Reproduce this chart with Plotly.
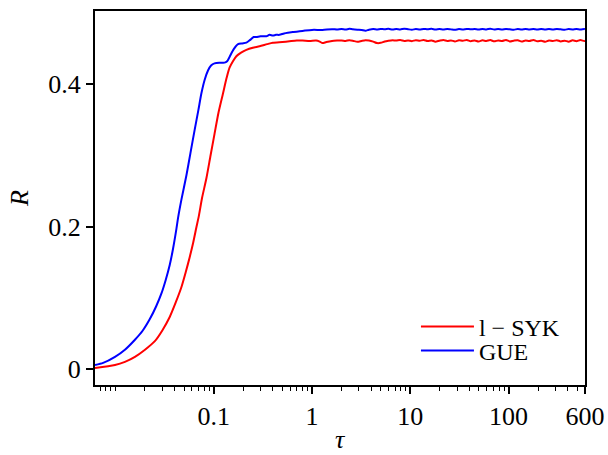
import plotly.graph_objects as go

# ---- data ----
tau_syk = [0.0062, 0.0099, 0.0125, 0.0158, 0.020, 0.0252, 0.030, 0.0357, 0.041, 0.047,
           0.052, 0.057, 0.062, 0.0667, 0.0709, 0.0761, 0.0844, 0.093, 0.102, 0.112,
           0.124, 0.135, 0.145, 0.157, 0.170, 0.190, 0.215, 0.25, 0.293, 0.35,
           0.40, 0.50, 0.59, 0.70, 0.8, 0.95, 1.1, 1.2, 1.28, 1.4, 1.6, 1.8,
           2.0, 2.2, 2.4, 2.6, 2.9, 3.2, 3.5, 3.8, 4.2, 4.6, 5.0, 5.5, 6.0, 6.6,
           7.2, 7.9, 8.7, 9.5, 10.4, 11.4, 12.5, 13.7, 15, 16.5, 18, 19.8, 21.7,
           23.8, 26, 28.5, 31.3, 34.3, 37.6, 41.2, 45.2, 49.5, 54.3, 59.5, 65.2,
           71.5, 78.4, 86, 94.2, 103, 113, 124, 136, 149, 163, 179, 196, 215,
           236, 258, 283, 310, 340, 373, 409, 448, 491, 538, 590, 600]
r_syk = [0.0014, 0.0056, 0.010, 0.017, 0.027, 0.039, 0.054, 0.073, 0.093, 0.115,
         0.136, 0.157, 0.178, 0.199, 0.216, 0.240, 0.268, 0.300, 0.330, 0.360,
         0.386, 0.408, 0.423, 0.432, 0.439, 0.444, 0.448, 0.451, 0.453, 0.456,
         0.458, 0.459, 0.460, 0.461, 0.461, 0.4605, 0.461, 0.4595, 0.4575, 0.459, 0.4605, 0.461,
         0.4612, 0.4605, 0.4615, 0.4608, 0.4592, 0.4605, 0.4615, 0.461, 0.4595, 0.4575, 0.4578, 0.4598, 0.4608, 0.4615,
         0.461, 0.4618, 0.4605, 0.4612, 0.4602, 0.4615, 0.4608, 0.4618, 0.4603, 0.4612, 0.4595, 0.4608, 0.4618,
         0.4605, 0.4612, 0.4598, 0.4614, 0.4606, 0.4619, 0.4601, 0.4611, 0.4597, 0.4613, 0.4604, 0.4617,
         0.4599, 0.4612, 0.4603, 0.4618, 0.4598, 0.4609, 0.4615, 0.4596, 0.4611, 0.4604, 0.4619, 0.4599, 0.4608,
         0.4593, 0.4611, 0.4603, 0.4616, 0.4598, 0.4609, 0.4594, 0.4613, 0.4601, 0.4617, 0.4604, 0.4610]

tau_gue = [0.0062, 0.0075, 0.0099, 0.0125, 0.0158, 0.019, 0.0224, 0.026, 0.0294, 0.0325,
           0.0357, 0.0385, 0.0418, 0.0434, 0.0470, 0.0528, 0.0580, 0.0641, 0.0700, 0.0750,
           0.0810, 0.0875, 0.094, 0.102, 0.114, 0.129, 0.137, 0.145, 0.160, 0.177,
           0.195, 0.215, 0.235, 0.255, 0.271, 0.30, 0.343, 0.37, 0.40, 0.43,
           0.467, 0.52, 0.568, 0.65, 0.75, 0.85, 1.0, 1.28, 1.6, 1.8,
           2.0, 2.2, 2.4, 2.6, 2.9, 3.2, 3.5, 3.8, 4.2, 4.6, 5.0, 5.5, 6.0, 6.6,
           7.2, 7.9, 8.7, 9.5, 10.4, 11.4, 12.5, 13.7, 15, 16.5, 18, 19.8, 21.7,
           23.8, 26, 28.5, 31.3, 34.3, 37.6, 41.2, 45.2, 49.5, 54.3, 59.5, 65.2,
           71.5, 78.4, 86, 94.2, 103, 113, 124, 136, 149, 163, 179, 196, 215,
           236, 258, 283, 310, 340, 373, 409, 448, 491, 538, 590, 600]
r_gue = [0.0056, 0.0085, 0.017, 0.027, 0.041, 0.054, 0.070, 0.088, 0.106, 0.125,
         0.146, 0.168, 0.197, 0.212, 0.238, 0.272, 0.303, 0.336, 0.364, 0.387,
         0.406, 0.419, 0.426, 0.429, 0.430, 0.430, 0.432, 0.438, 0.449, 0.456,
         0.457, 0.458, 0.462, 0.466, 0.466, 0.467, 0.467, 0.469, 0.468, 0.469,
         0.469, 0.471, 0.472, 0.473, 0.474, 0.475, 0.476, 0.476, 0.477, 0.4765,
         0.4772, 0.4765, 0.4775, 0.4768, 0.4762, 0.4758, 0.4748, 0.4762, 0.4772, 0.4766, 0.4774, 0.4768, 0.4776, 0.4764,
         0.4772, 0.4767, 0.4775, 0.4769, 0.4763, 0.4771, 0.4766, 0.4774, 0.4768, 0.4776, 0.4764, 0.4771, 0.4766,
         0.4773, 0.4767, 0.4762, 0.4771, 0.4765, 0.4774, 0.4768, 0.4772, 0.4764, 0.4773, 0.4767, 0.4775,
         0.4766, 0.4771, 0.4765, 0.4773, 0.4768, 0.4762, 0.4772, 0.4766, 0.4774, 0.4767, 0.4771, 0.4764, 0.4773,
         0.4766, 0.4772, 0.4765, 0.4774, 0.4768, 0.4763, 0.4771, 0.4767, 0.4773, 0.4765, 0.4772, 0.4768]

x_tickvals = [0.1, 1, 10, 100, 600]
x_ticktext = ["0.1", "1", "10", "100", "600"]
y_tickvals = [0, 0.2, 0.4]
y_ticktext = ["0", "0.2", "0.4"]

x_title = "<i>τ</i>"
y_title = "<i>R</i>"

series_names = ["l − SYK", "GUE"]
series_colors = ["#ff0000", "#0000ff"]

FONT = "Liberation Serif"

fig = go.Figure()
fig.add_trace(go.Scatter(x=tau_syk, y=r_syk, mode="lines", name=series_names[0],
                         line=dict(color=series_colors[0], width=2, shape="spline", smoothing=0.7),
                         legend="legend"))
fig.add_trace(go.Scatter(x=tau_gue, y=r_gue, mode="lines", name=series_names[1],
                         line=dict(color=series_colors[1], width=2, shape="spline", smoothing=0.7),
                         legend="legend2"))

minor_vals = [m * 10 ** e for e in range(-3, 3) for m in range(2, 10)]
minor_vals = [v for v in minor_vals if 0.0062 < v < 600]
minor_vals += [0.01]

leg_common = dict(xanchor="left", yanchor="middle", bgcolor="rgba(0,0,0,0)",
                  font=dict(size=24, family=FONT), itemwidth=53, borderwidth=0)

fig.update_layout(
    width=608, height=455,
    margin=dict(l=95, r=23, t=11, b=70, autoexpand=False),
    plot_bgcolor="white", paper_bgcolor="white",
    font=dict(family=FONT, size=26, color="black"),
    showlegend=True,
    legend=dict(x=0.655, y=(385 - 327) / 374, **leg_common),
    legend2=dict(x=0.655, y=(385 - 351) / 374, **leg_common),
    xaxis=dict(type="log", range=[-2.2076, 2.778], automargin=False,
               tickmode="array", tickvals=x_tickvals, ticktext=x_ticktext,
               ticks="outside", ticklen=7, tickwidth=1.5, tickcolor="black",
               showline=True, linecolor="black", linewidth=2, mirror=True,
               showgrid=False, zeroline=False,
               minor=dict(tickmode="array", tickvals=minor_vals, ticks="outside",
                          ticklen=4, tickwidth=1, tickcolor="black", showgrid=False)),
    yaxis=dict(range=[-0.0225, 0.5025], automargin=False,
               tickmode="array", tickvals=y_tickvals, ticktext=y_ticktext,
               ticks="outside", ticklen=7, tickwidth=1.5, tickcolor="black",
               showline=True, linecolor="black", linewidth=2, mirror=True,
               showgrid=False, zeroline=False,
               title=dict(text=y_title, standoff=12, font=dict(size=26, family=FONT))),
)

# x-axis title placed low, as in the reference
fig.add_annotation(text=x_title, xref="paper", yref="paper",
                   x=(340 - 95) / 490, y=(385 - 440) / 374,
                   xanchor="center", yanchor="middle", showarrow=False,
                   font=dict(size=26, family=FONT, color="black"))

fig.write_html("out.html", config={"displayModeBar": False},
               post_script="document.body.style.margin='0';document.body.style.overflow='hidden';")
